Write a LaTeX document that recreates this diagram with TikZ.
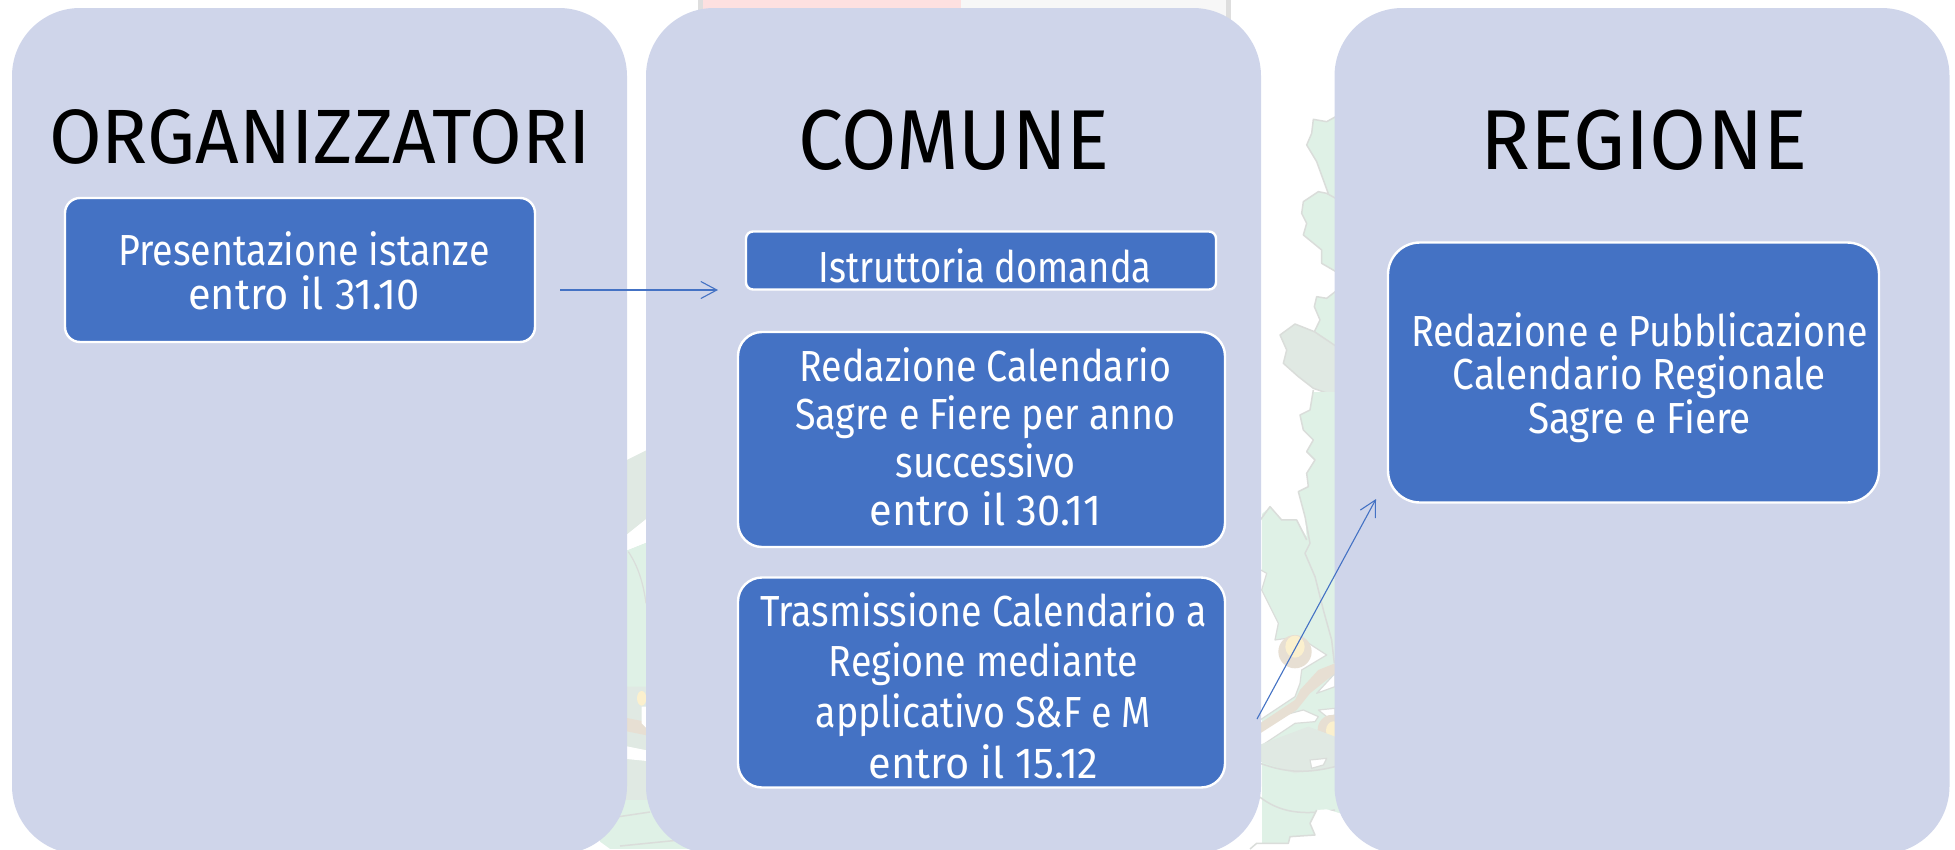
\documentclass[tikz,border=0pt]{standalone}
\usepackage{fontspec}
\setmainfont[FakeStretch=0.865]{Fira Sans}
\newfontfamily\titlefont[FakeStretch=0.97]{Fira Sans}
\newfontfamily\titlefontw[FakeStretch=0.99]{Fira Sans}
\newfontfamily\titlefontn[FakeStretch=0.945]{Fira Sans}
\newfontfamily\wideline[FakeStretch=0.955]{Fira Sans}
\newfontfamily\midline[FakeStretch=0.89]{Fira Sans}
\newfontfamily\narrowline[FakeStretch=0.835]{Fira Sans}
\usetikzlibrary{arrows.meta}
\definecolor{panelc}{HTML}{CFD5EA}
\definecolor{boxc}{HTML}{4472C4}
\definecolor{leaf}{HTML}{DFF1E6}
\definecolor{leafg}{HTML}{E0E9E3}
\definecolor{leafl}{HTML}{DADDDA}
\definecolor{tanc}{HTML}{E7DFD3}
\definecolor{creamc}{HTML}{FBF0CE}
\definecolor{pinkc}{HTML}{FDE0E0}
\definecolor{frameg}{HTML}{DEDEDE}
\definecolor{paleg}{HTML}{F7F7F7}
\newcommand{\boxtxt}[4]{\makebox[0pt]{\raisebox{#2pt}[0pt][0pt]{\hspace{#1pt}\parbox[b]{560pt}{\centering\baselineskip=#3pt\relax #4\par}}}}
\tikzset{
  panel/.style={fill=panelc,rounded corners=68pt,minimum width=#1pt,minimum height=846pt,inner sep=0pt},
  title/.style={font=\titlefont\fontsize{#1}{#1}\selectfont,text=black,inner sep=0pt,anchor=base},
  bluebox/.style={fill=boxc,draw=white,line width=2.4pt,text=white,inner sep=0pt,font=\fontsize{43.5}{48}\selectfont},
  flow/.style={draw=boxc,line width=1.1pt,-{Straight Barb[length=16pt,width=17pt,line width=1.1pt]}},
  leaflet/.style={fill=leaf,draw=leafl,line width=1.5pt,line join=round},
  blank/.style={fill=white,draw=leafl,line width=1.2pt,line join=round}
}
\begin{document}
\begin{tikzpicture}[x=1pt,y=-1pt]
\useasboundingbox (0,0) rectangle (1955,849);
% --- faint background picture seen between the panels ---
\fill[frameg] (698,0) rectangle (1231,20);
\fill[pinkc] (703,0) rectangle (961,20);
\fill[paleg] (961,0) rectangle (1226,20);
% gap 2-3, upper leaves
\begin{scope}[shift={(1255,90)},x=0.3333pt,y=-0.3333pt]
\filldraw[leaflet] (260,70)--(215,95)--(175,88)--(170,130)--(155,165)--(185,215)--(205,270)--(225,325)--(260,325)--cycle;
\filldraw[leaflet] (260,335)--(215,310)--(190,305)--(145,335)--(140,370)--(155,400)--(145,435)--(200,480)--(200,520)--(260,555)--cycle;
\filldraw[leaflet] (260,590)--(215,625)--(185,620)--(178,650)--(195,690)--(178,725)--(260,790)--cycle;
\filldraw[leaflet,fill=leafg] (75,735)--(120,702)--(178,725)--(260,780)--(260,925)--(175,895)--(130,860)--(85,820)--(95,780)--cycle;
\end{scope}
% gap 2-3, lower part
\fill[leaf] (1262,392) rectangle (1340,849);
\begin{scope}[shift={(1255,90)},x=0.3333pt,y=-0.3333pt]
\fill[white] (0,900) -- (175,900) -- (165,960) -- (135,975) -- (145,1020) -- (175,1050) -- (155,1085) -- (180,1110) -- (155,1150) -- (160,1190) -- (130,1205) -- (150,1280) -- (155,1340) -- (125,1290) -- (80,1290) -- (45,1250) -- (0,1290) -- cycle;
\draw[leafl,line width=1.5pt,line join=round] (175,900) -- (165,960) -- (135,975) -- (145,1020) -- (175,1050) -- (155,1085) -- (180,1110) -- (155,1150) -- (160,1190) -- (130,1205) -- (150,1280) -- (165,1360) -- (150,1390) -- (180,1460) -- (205,1560) -- (230,1650) -- (238,1720);
\draw[leafl,line width=1.5pt,line join=round] (16,1290) -- (45,1250) -- (80,1290) -- (125,1290) -- (155,1350);
\end{scope}
\begin{scope}[shift={(1255,460)},x=0.3333pt,y=-0.3333pt]
\filldraw[blank] (0,320) -- (35,340) -- (20,390) -- (70,490) -- (60,540) -- (130,530) -- (215,585) -- (140,630) -- (135,670) -- (120,710) -- (0,790) -- cycle;
\filldraw[blank] (0,870) -- (120,790) -- (180,785) -- (190,770) -- (145,750) -- (70,770) -- (0,810) -- cycle;
\filldraw[blank] (185,700) -- (240,640) -- (240,680) -- cycle;
\filldraw[blank] (190,750) -- (240,745) -- (240,765) -- (215,770) -- cycle;
\fill[tanc] (0,800) -- (120,720) -- (135,690) -- (190,630) -- (240,610) -- (240,640) -- (165,700) -- (125,750) -- (0,830) -- cycle;
\fill[tanc] (120,575) ellipse (50 and 50);
\fill[creamc] (120,560) ellipse (29 and 33);
\fill[tanc] (230,810) ellipse (42 and 45);
\fill[creamc] (235,812) ellipse (22 and 28);
\fill[leafg] (0,860) -- (160,800) -- (240,830) -- (240,920) -- (120,940) -- (0,900) -- cycle;
\filldraw[blank] (165,900) -- (215,895) -- (205,915) -- (170,925) -- cycle;
\draw[leafl,line width=1.5pt] (0,905) .. controls (60,925) and (120,950) .. (240,920);
\draw[leafl,line width=1.5pt] (0,1000) .. controls (60,1050) and (120,1070) .. (240,1050);
\end{scope}
\begin{scope}[shift={(1200,780)},x=0.3333pt,y=-0.3333pt]
\fill[white] (350,90) -- (330,130) -- (345,165) -- (270,170) -- (265,190) -- (170,190) -- (150,207) -- (620,207) -- (620,60) -- (420,100) -- (380,88) -- cycle;
\draw[leafl,line width=1.5pt,line join=round] (350,90) -- (330,130) -- (345,165) -- (270,170) -- (265,190) -- (170,190) -- (150,207);
\end{scope}
% gap 1-2
\fill[leafg] (620,447) rectangle (652,849);
\begin{scope}[shift={(610,430)},x=0.3333pt,y=-0.3333pt]
\fill[white] (30,0) rectangle (130,60);
\fill[white] (30,100) -- (130,50) -- (130,0) -- (30,0) -- cycle;
\fill[white] (30,370) -- (130,330) -- (130,250) -- (30,330) -- cycle;
\fill[leaf] (30,370) -- (130,330) -- (130,770) -- (30,770) -- cycle;
\draw[leafl,line width=1.2pt] (55,365) .. controls (85,410) and (100,460) .. (108,520);
\fill[tanc] (30,860) -- (130,880) -- (130,920) -- (30,900) -- cycle;
\fill[white] (95,830) -- (115,830) -- (115,900) -- (95,880) -- cycle;
\fill[creamc] (95,805) ellipse (14 and 22);
\fill[white] (30,945) -- (130,965) -- (130,995) -- (30,985) -- cycle;
\end{scope}
\fill[leaf] (600,800) rectangle (700,849);
\draw[leafl,line width=1.5pt] (610,818) -- (650,812);
\draw[leafl,line width=1.5pt] (620,846) -- (680,840);
\fill[white] (590,849) -- (599,841) -- (610,849) -- cycle;
% --- panels ---
\node[panel=615] (porg) at (319.5,431) {};
\node[panel=615] (pcom) at (953.5,431) {};
\node[panel=615] (preg) at (1642,431) {};
\node[title=77,font=\titlefontw\fontsize{77}{77}\selectfont] (torg) at (320,163) {ORGANIZZATORI};
\node[title=85,font=\titlefontn\fontsize{85}{85}\selectfont] (tcom) at (954,169) {COMUNE};
\node[title=85] (treg) at (1644,169.5) {REGIONE};
% --- boxes ---
\node[bluebox,rounded corners=15pt,minimum width=470pt,minimum height=144pt] (a) at (300,270)
  {\boxtxt{8}{-39}{44}{Presentazione istanze\\\wideline entro il 31.10}};
\node[bluebox,rounded corners=7pt,minimum width=470pt,minimum height=58pt] (b) at (981,260.5)
  {\boxtxt{8}{-21.5}{48}{\narrowline Istruttoria domanda}};
\node[bluebox,rounded corners=24pt,minimum width=487pt,minimum height=215pt] (c) at (981.5,439.5)
  {\boxtxt{8}{-85.5}{48}{Redazione Calendario\\Sagre e Fiere per anno\\successivo\\\wideline entro il 30.11}};
\node[bluebox,rounded corners=24pt,minimum width=487pt,minimum height=210pt] (d) at (981.5,682.5)
  {\boxtxt{4}{-95.5}{50.6}{Trasmissione Calendario a\\Regione mediante\\applicativo S\&F e M\\\wideline entro il 15.12}};
\node[bluebox,rounded corners=32pt,minimum width=491pt,minimum height=260pt] (e) at (1633.5,372.5)
  {\boxtxt{12}{-60.5}{43.5}{Redazione e Pubblicazione\\{\midline Calendario Regionale}\\{\midline Sagre e Fiere}}};
% --- connectors ---
\coordinate (s1) at (560,290);
\coordinate (e1) at (718,290);
\coordinate (s2) at (1257,719);
\coordinate (e2) at (1376,499);
\draw[flow] (s1) -- (e1);
\draw[flow] (s2) -- (e2);
\end{tikzpicture}
\end{document}
